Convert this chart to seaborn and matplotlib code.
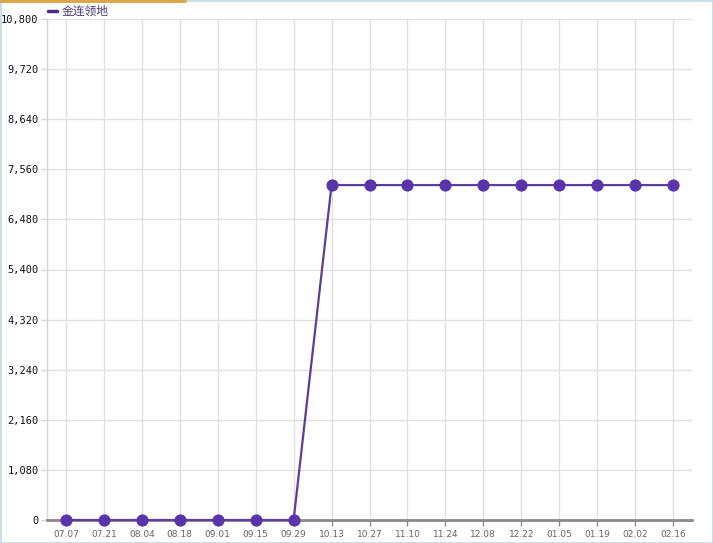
import matplotlib
matplotlib.use("Agg")
import matplotlib.pyplot as plt
import seaborn as sns
import pandas as pd
import numpy as np

dates = ["07.07", "07.21", "08.04", "08.18", "09.01", "09.15", "09.29", "10.13",
         "10.27", "11.10", "11.24", "12.08", "12.22", "01.05", "01.19", "02.02", "02.16"]
values = [0, 0, 0, 0, 0, 0, 0, 7220, 7220, 7220, 7220, 7220, 7220, 7220, 7220, 7220, 7220]
yticks = [0, 1080, 2160, 3240, 4320, 5400, 6480, 7560, 8640, 9720, 10800]
series_name = "金连领地"

sns.set_theme(style="white")
plt.rcParams['font.family'] = ['Noto Sans CJK SC', 'DejaVu Sans']

df = pd.DataFrame({"idx": range(len(dates)), "value": values})

fig = plt.figure(figsize=(7.13, 5.43), dpi=100)
fig.patch.set_facecolor("white")
ax = fig.add_axes([47/713, 23/543, 645/713, 501/543])

line_color = "#5c3d99"
ax.grid(True, axis="both", color="#e0e0e0", linewidth=1)
ax.set_axisbelow(True)
sns.lineplot(data=df, x="idx", y="value", ax=ax, color=line_color, linewidth=1.6,
             marker="o", markersize=8, markerfacecolor="#5a34aa", markeredgecolor="#5a34aa",
             clip_on=False, zorder=5)

ax.set_xlim(-0.5, len(dates) - 0.5)
ax.set_ylim(0, 10800)
ax.set_xticks(range(len(dates)))
ax.set_xticklabels(dates, fontsize=6.5, color="#666666", family=['DejaVu Sans'])
ax.set_yticks(yticks)
ax.set_yticklabels([f"{v:,}" for v in yticks], fontsize=7.5, color="#111111", family=['DejaVu Sans Mono', 'DejaVu Sans'])
ax.set_xlabel("")
ax.set_ylabel("")

for s in ["top", "right"]:
    ax.spines[s].set_visible(False)
ax.spines["left"].set_color("#cfd6dc")
ax.spines["left"].set_linewidth(1)
ax.spines["bottom"].set_color("#8a8a8a")
ax.spines["bottom"].set_linewidth(2)
ax.spines["bottom"].set_zorder(4)
ax.tick_params(axis="x", length=4, width=1, color="#8a8a8a", pad=3, direction="out", bottom=True)
ax.tick_params(axis="y", length=4, width=1, color="#cfd6dc", pad=2, left=True)

# legend
ly = 1 - 11/543
fig.add_artist(plt.Line2D([48/713, 57/713], [ly, ly], color="#4a2f80", linewidth=2.5, transform=fig.transFigure))
fig.text(62/713, ly, series_name, color="#4a3a7a", fontsize=8.5, va="center", ha="left")

# decorative borders
fig.add_artist(plt.Line2D([0, 185/713], [1 - 0.5/543, 1 - 0.5/543], color="#d9a441", linewidth=2, transform=fig.transFigure))
fig.add_artist(plt.Rectangle((0, 0), 1, 1, transform=fig.transFigure, fill=False, edgecolor="#c5dde8", linewidth=2))

fig.savefig("out.png", dpi=100)
